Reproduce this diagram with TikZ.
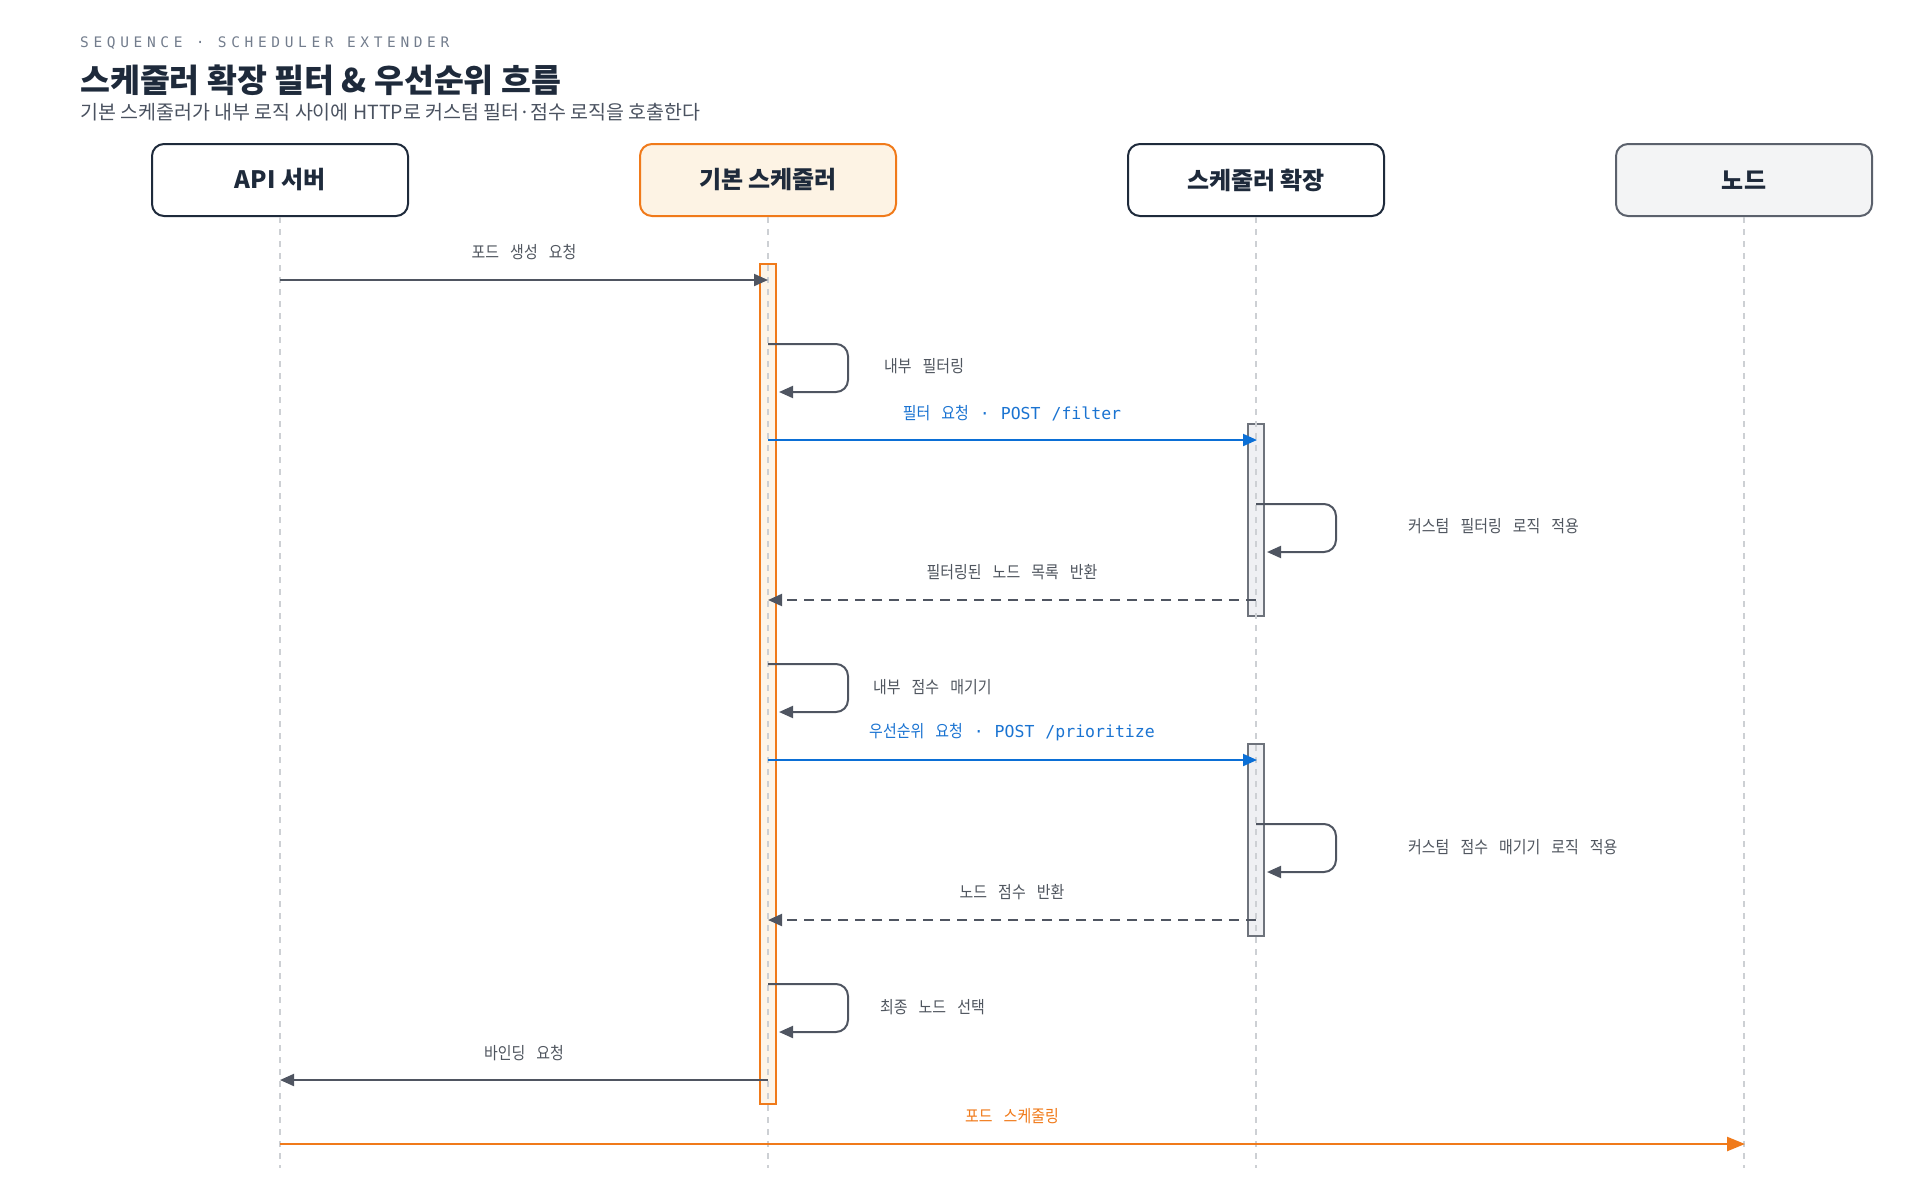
\documentclass[tikz,border=0pt]{standalone}
\usepackage{fontspec}
\usetikzlibrary{arrows.meta}
\setmainfont{Noto Sans CJK KR}
\newfontfamily\krfont{Noto Sans CJK KR}
\newfontfamily\lblkr{Noto Sans CJK KR}[FakeStretch=0.88]
\newfontfamily\monofont{DejaVu Sans Mono}
\newfontfamily\hdrfont{DejaVu Sans Mono}[LetterSpace=32]
\newcommand\lblspacing{\spaceskip=11pt\relax}
\definecolor{navy}{HTML}{1E2A3B}
\definecolor{hdrgray}{HTML}{737D8D}
\definecolor{subgray}{HTML}{4A5260}
\definecolor{lblgray}{HTML}{50565F}
\definecolor{arrgray}{HTML}{4F5561}
\definecolor{msgblue}{HTML}{0B6FD6}
\definecolor{txtblue}{HTML}{1A73D1}
\definecolor{orng}{HTML}{F07A1A}
\definecolor{orngfill}{HTML}{FDF3E4}
\definecolor{actfill}{HTML}{FDF5E9}
\definecolor{nodefill}{HTML}{F3F4F5}
\definecolor{nodestroke}{HTML}{5B616C}
\definecolor{extfill}{HTML}{EFF0F3}
\definecolor{extstroke}{HTML}{6E737C}
\definecolor{lifeln}{HTML}{CDD0D4}
\tikzset{
  actor/.style={draw=navy, line width=2pt, rounded corners=12pt, fill=white,
    minimum width=256pt, minimum height=72pt, inner sep=0pt, text=navy,
    font=\krfont\bfseries\fontsize{24}{28}\selectfont},
  lifeline/.style={draw=lifeln, line width=1.5pt, dash pattern=on 6pt off 6pt},
  actorange/.style={draw=orng, fill=actfill, line width=2pt, minimum width=16pt, inner sep=0pt},
  actgray/.style={draw=extstroke, fill=extfill, line width=2pt, minimum width=16pt, inner sep=0pt},
  msg/.style={draw=arrgray, line width=2pt, -{Triangle[length=14pt,width=12pt]}},
  retmsg/.style={msg, dash pattern=on 10pt off 7pt},
  bluemsg/.style={msg, draw=msgblue, -{Triangle[length=14pt,width=12pt,fill=msgblue]}},
  orngmsg/.style={draw=orng, line width=2.5pt, -{Triangle[length=18pt,width=14pt,fill=orng]}},
  selfloop/.style={msg, rounded corners=12pt},
  lbl/.style={inner sep=0pt, text=lblgray, font={\lblkr\fontsize{17}{19}\selectfont\lblspacing}},
  bluelbl/.style={lbl, text=txtblue},
  orngblbl/.style={lbl, text=orng},
}
\begin{document}
\begin{tikzpicture}[x=1pt, y=-1pt]
\useasboundingbox (0,0) rectangle (1920,1200);
% header
\node[anchor=base west, inner sep=0pt, text=hdrgray, font=\hdrfont\fontsize{14.5}{17}\selectfont] (hdr) at (80,47) {SEQUENCE · SCHEDULER EXTENDER};
\node[anchor=base west, inner sep=0pt, text=navy, font=\krfont\bfseries\fontsize{32.5}{36}\selectfont] (title) at (80,92) {스케줄러 확장 필터 \& 우선순위 흐름};
\node[anchor=base west, inner sep=0pt, text=subgray, font=\krfont\fontsize{19.5}{23}\selectfont] (sub) at (80,119) {기본 스케줄러가 내부 로직 사이에 HTTP로 커스텀 필터·점수 로직을 호출한다};
% actors
\node[actor] (api) at (280,180) {API 서버};
\node[actor, draw=orng, fill=orngfill] (sched) at (768,180) {기본 스케줄러};
\node[actor] (ext) at (1256,180) {스케줄러 확장};
\node[actor, draw=nodestroke, fill=nodefill] (nd) at (1744,180) {노드};
% activation bars
\node[actorange, minimum height=840pt] (actS) at (768,684) {};
\node[actgray, minimum height=192pt] (actE1) at (1256,520) {};
\node[actgray, minimum height=192pt] (actE2) at (1256,840) {};
% lifeline ends
\coordinate (apiend) at (280,1168);
\coordinate (schedend) at (768,1168);
\coordinate (extend) at (1256,1168);
\coordinate (ndend) at (1744,1168);
\draw[lifeline] (api.south) -- (apiend);
\draw[lifeline] (sched.south) -- (schedend);
\draw[lifeline] (ext.south) -- (extend);
\draw[lifeline] (nd.south) -- (ndend);
% message coordinates
\coordinate (m1a) at (280,280);  \coordinate (m1b) at (768,280);
\coordinate (s1a) at (768,344);  \coordinate (s1b) at (848,344);  \coordinate (s1c) at (848,392);  \coordinate (s1d) at (779,392);
\coordinate (m2a) at (768,440);  \coordinate (m2b) at (1257,440);
\coordinate (s2a) at (1256,504); \coordinate (s2b) at (1336,504); \coordinate (s2c) at (1336,552); \coordinate (s2d) at (1267,552);
\coordinate (m3a) at (1256,600); \coordinate (m3b) at (768,600);
\coordinate (s3a) at (768,664);  \coordinate (s3b) at (848,664);  \coordinate (s3c) at (848,712);  \coordinate (s3d) at (779,712);
\coordinate (m4a) at (768,760);  \coordinate (m4b) at (1257,760);
\coordinate (s4a) at (1256,824); \coordinate (s4b) at (1336,824); \coordinate (s4c) at (1336,872); \coordinate (s4d) at (1267,872);
\coordinate (m5a) at (1256,920); \coordinate (m5b) at (768,920);
\coordinate (s5a) at (768,984);  \coordinate (s5b) at (848,984);  \coordinate (s5c) at (848,1032); \coordinate (s5d) at (779,1032);
\coordinate (m6a) at (768,1080); \coordinate (m6b) at (280,1080);
\coordinate (m7a) at (280,1144); \coordinate (m7b) at (1745,1144);
% messages
\draw[msg] (m1a) -- (m1b);
\draw[selfloop] (s1a) -- (s1b) -- (s1c) -- (s1d);
\draw[bluemsg] (m2a) -- (m2b);
\draw[selfloop] (s2a) -- (s2b) -- (s2c) -- (s2d);
\draw[retmsg] (m3a) -- (m3b);
\draw[selfloop] (s3a) -- (s3b) -- (s3c) -- (s3d);
\draw[bluemsg] (m4a) -- (m4b);
\draw[selfloop] (s4a) -- (s4b) -- (s4c) -- (s4d);
\draw[retmsg] (m5a) -- (m5b);
\draw[selfloop] (s5a) -- (s5b) -- (s5c) -- (s5d);
\draw[msg] (m6a) -- (m6b);
\draw[orngmsg] (m7a) -- (m7b);
% labels
\node[lbl] (l1) at (524,252) {포드 생성 요청};
\node[lbl, anchor=west] (l2) at (884,366) {내부 필터링};
\node[bluelbl] (l3) at (1012,413) {필터 요청{\monofont\fontsize{16.5}{19}\selectfont{} · POST /filter}};
\node[lbl, anchor=west] (l4) at (1408,526) {커스텀 필터링 로직 적용};
\node[lbl] (l5) at (1012,572) {필터링된 노드 목록 반환};
\node[lbl, anchor=west] (l6) at (873,687) {내부 점수 매기기};
\node[bluelbl] (l7) at (1012,732) {우선순위 요청{\monofont\fontsize{16.5}{19}\selectfont{} · POST /prioritize}};
\node[lbl, anchor=west] (l8) at (1408,847) {커스텀 점수 매기기 로직 적용};
\node[lbl] (l9) at (1012,892) {노드 점수 반환};
\node[lbl, anchor=west] (l10) at (880,1007) {최종 노드 선택};
\node[lbl] (l11) at (524,1053) {바인딩 요청};
\node[orngblbl] (l12) at (1012,1116) {포드 스케줄링};
\end{tikzpicture}
\end{document}
